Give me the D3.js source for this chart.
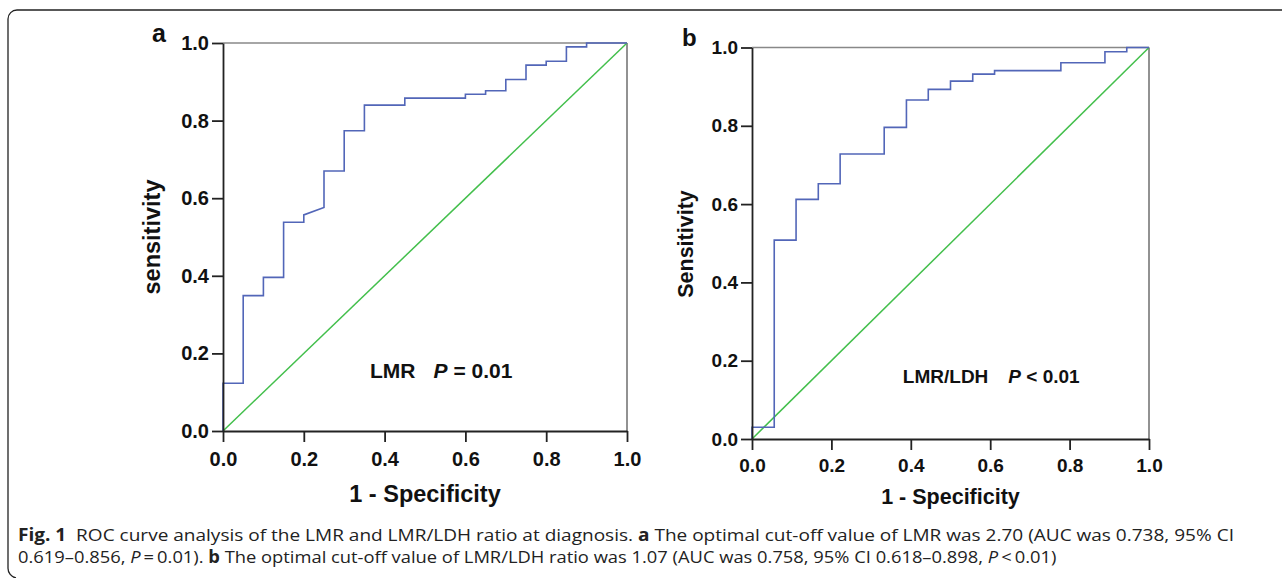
<!DOCTYPE html>
<html>
<head>
<meta charset="utf-8">
<title>ROC curves LMR and LMR/LDH</title>
<script src="https://d3js.org/d3.v7.min.js"></script>
<style>
  body { margin: 0; background: #fff; }
  svg { display: block; }
  .tick text { font-family: "Liberation Sans", Arial, sans-serif; font-weight: bold; fill: #111; }
  .tick line, .domain { stroke: #222; stroke-width: 1.8; }
  .lbl { font-family: "Liberation Sans", Arial, sans-serif; font-weight: bold; fill: #111; }
  .cap { font-family: "Open Sans", "Noto Sans", sans-serif; fill: #222; }
</style>
</head>
<body>
<svg width="1282" height="578"></svg>
<script>
// ---- data ----
const ticks = [0, 0.2, 0.4, 0.6, 0.8, 1.0];
const tickLabels = ["0.0", "0.2", "0.4", "0.6", "0.8", "1.0"];

// panel a: LMR
const lmrFpr  = [0, 0, 0.05, 0.05, 0.10, 0.10, 0.15, 0.15, 0.20, 0.20, 0.25, 0.25, 0.30, 0.30, 0.35, 0.35, 0.45, 0.45, 0.60, 0.60, 0.65, 0.65, 0.70, 0.70, 0.75, 0.75, 0.80, 0.80, 0.85, 0.85, 0.90, 0.90, 1.0];
const lmrSens = [0, 0.123, 0.123, 0.349, 0.349, 0.396, 0.396, 0.538, 0.538, 0.557, 0.576, 0.670, 0.670, 0.774, 0.774, 0.840, 0.840, 0.858, 0.858, 0.868, 0.868, 0.877, 0.877, 0.906, 0.906, 0.943, 0.943, 0.953, 0.953, 0.990, 0.990, 1.0, 1.0];

// panel b: LMR/LDH
const ldhFpr  = [0, 0, 0.056, 0.056, 0.111, 0.111, 0.167, 0.167, 0.222, 0.222, 0.333, 0.333, 0.389, 0.389, 0.444, 0.444, 0.5, 0.5, 0.556, 0.556, 0.611, 0.611, 0.778, 0.778, 0.889, 0.889, 0.944, 0.944, 1.0];
const ldhSens = [0, 0.030, 0.030, 0.508, 0.508, 0.612, 0.612, 0.652, 0.652, 0.728, 0.728, 0.796, 0.796, 0.866, 0.866, 0.893, 0.893, 0.914, 0.914, 0.932, 0.932, 0.941, 0.941, 0.961, 0.961, 0.989, 0.989, 1.0, 1.0];

const refLine = [0, 1];

const svg = d3.select('svg');

// outer figure frame (rounded corner on the left)
svg.append('path')
  .attr('d', 'M1282,10 H17 A9,9 0 0 0 8,19 V568 A10,10 0 0 0 16,578')
  .attr('fill', 'none').attr('stroke', '#222').attr('stroke-width', 1.3);

function panel(cfg) {
  const x = d3.scaleLinear().domain([0, 1]).range([cfg.left, cfg.right]);
  const y = d3.scaleLinear().domain([0, 1]).range([cfg.bottom, cfg.top]);
  const g = svg.append('g');

  // grey box top / right
  g.append('line').attr('x1', x(0)).attr('x2', x(1)).attr('y1', y(1)).attr('y2', y(1))
    .attr('stroke', '#888').attr('stroke-width', 1.6);
  g.append('line').attr('x1', x(1)).attr('x2', x(1)).attr('y1', y(1)).attr('y2', y(0))
    .attr('stroke', '#777').attr('stroke-width', 1.6);

  // reference diagonal
  g.append('line')
    .attr('x1', x(refLine[0])).attr('y1', y(refLine[0]))
    .attr('x2', x(refLine[1])).attr('y2', y(refLine[1]))
    .attr('stroke', '#43bf4c').attr('stroke-width', 1.5);

  // ROC curve
  const pts = cfg.fpr.map((f, i) => [f, cfg.sens[i]]);
  g.append('path').datum(pts)
    .attr('d', d3.line().x(d => x(d[0])).y(d => y(d[1])))
    .attr('fill', 'none').attr('stroke', '#5266b8').attr('stroke-width', 1.6);

  // axes
  const ax = g.append('g').attr('transform', `translate(0,${y(0)})`)
    .call(d3.axisBottom(x).tickValues(ticks).tickFormat((d, i) => tickLabels[i])
      .tickSize(cfg.tick).tickSizeOuter(0).tickPadding(cfg.xPad));
  ax.selectAll('text').style('font-size', cfg.fs + 'px');
  const ay = g.append('g').attr('transform', `translate(${x(0)},0)`)
    .call(d3.axisLeft(y).tickValues(ticks).tickFormat((d, i) => tickLabels[i])
      .tickSize(cfg.tick).tickSizeOuter(0).tickPadding(3));
  ay.selectAll('text').style('font-size', cfg.fs + 'px');

  // titles
  g.append('text').attr('class', 'lbl')
    .attr('x', (cfg.left + cfg.right) / 2).attr('y', cfg.xTitleY)
    .attr('text-anchor', 'middle').style('font-size', cfg.tfs + 'px')
    .text('1 - Specificity');
  g.append('text').attr('class', 'lbl')
    .attr('transform', `translate(${cfg.yTitleX},${cfg.yTitleC}) rotate(-90)`)
    .attr('text-anchor', 'middle').style('font-size', cfg.tfs + 'px')
    .text(cfg.yTitle);

  // panel letter
  g.append('text').attr('class', 'lbl')
    .attr('x', cfg.letterX).attr('y', cfg.letterY)
    .style('font-size', cfg.lfs + 'px').text(cfg.letter);

  // annotation
  const an = g.append('text').attr('class', 'lbl')
    .attr('x', x(cfg.annX)).attr('y', y(cfg.annY))
    .style('font-size', cfg.afs + 'px');
  an.append('tspan').text(cfg.annName);
  an.append('tspan').attr('dx', cfg.annGap).style('font-style', 'italic').text('P');
  an.append('tspan').text(cfg.annRest);
}

panel({
  left: 223, right: 627, top: 43, bottom: 431,
  fpr: lmrFpr, sens: lmrSens,
  tick: 11, xPad: 10, fs: 20, tfs: 23.5, lfs: 25, afs: 21,
  xTitleY: 502, yTitleX: 160, yTitleC: 237, yTitle: 'sensitivity',
  letter: 'a', letterX: 152, letterY: 42,
  annX: 0.364, annY: 0.137, annName: 'LMR', annGap: 18, annRest: ' = 0.01'
});

panel({
  left: 752, right: 1149, top: 47.5, bottom: 439,
  fpr: ldhFpr, sens: ldhSens,
  tick: 11, xPad: 9, fs: 19, tfs: 21.5, lfs: 24, afs: 19,
  xTitleY: 504, yTitleX: 693, yTitleC: 244, yTitle: 'Sensitivity',
  letter: 'b', letterX: 682, letterY: 46,
  annX: 0.38, annY: 0.143, annName: 'LMR/LDH', annGap: 20, annRest: ' < 0.01'
});

// caption
const capLines = [
  { y: 541, w: 1217, parts: [
    { t: 'Fig. 1', b: true }, { t: '  ROC curve analysis of the LMR and LMR/LDH ratio at diagnosis. ' },
    { t: 'a', b: true }, { t: ' The optimal cut-off value of LMR was 2.70 (AUC was 0.738, 95% CI' }] },
  { y: 563, w: 1039, parts: [
    { t: '0.619\u20130.856, ' }, { t: 'P', i: true }, { t: '\u2009=\u20090.01). ' },
    { t: 'b', b: true }, { t: ' The optimal cut-off value of LMR/LDH ratio was 1.07 (AUC was 0.758, 95% CI 0.618\u20130.898, ' },
    { t: 'P', i: true }, { t: '\u2009<\u20090.01)' }] }
];
capLines.forEach(l => {
  const t = svg.append('text').attr('class', 'cap').attr('x', 0).attr('y', 0)
    .style('font-size', '17px').attr('xml:space', 'preserve').style('white-space', 'pre');
  l.parts.forEach(p => {
    t.append('tspan').text(p.t)
      .style('font-weight', p.b ? 'bold' : null)
      .style('font-style', p.i ? 'italic' : null);
  });
  const len = t.node().getComputedTextLength();
  t.attr('transform', `translate(18,${l.y}) scale(${l.w / len},1)`);
});
</script>
</body>
</html>
